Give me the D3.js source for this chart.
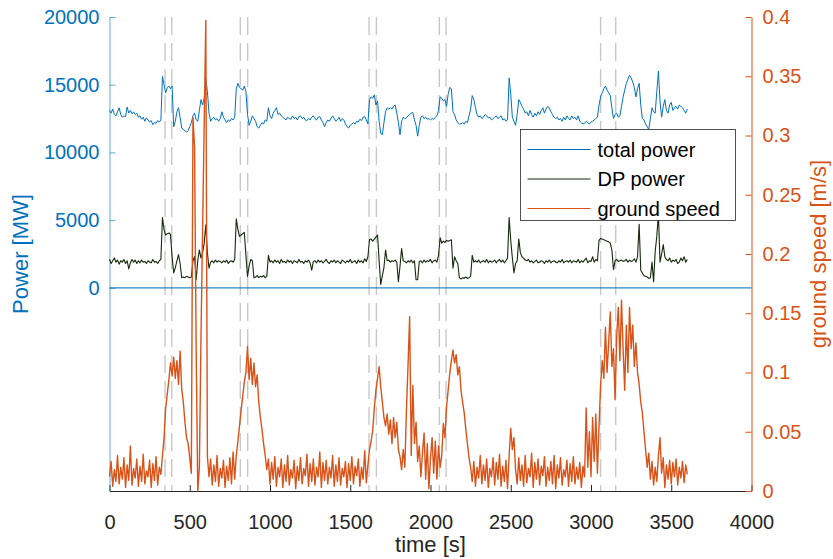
<!DOCTYPE html>
<head>
<meta charset="utf-8">
<style>
  body { margin: 0; background: #fff; }
  text { font-family: "Liberation Sans", Arial, Helvetica, sans-serif; }
</style>
</head>
<body>
<div id="chart"></div>
<script src="https://cdnjs.cloudflare.com/ajax/libs/d3/7.8.5/d3.min.js"></script>
<script>
// samples every 10 s, 0 .. 3600 s
var sampleStep = 10;

var totalPower = [
  13100,12900,13200,12800,12700,13000,13300,12800,12600,12700,
  12650,13350,12900,13100,12850,13000,12800,12900,12600,12700,
  12450,12600,12300,12550,12400,12250,12350,12050,12200,12150,
  12350,12250,12400,15600,15000,14400,14800,14900,14700,14900,
  11900,12300,13000,13300,12600,11800,11700,11600,11500,11600,
  11900,12200,12700,12900,12400,12300,13100,13900,13500,14000,
  15400,14500,12900,12300,12500,12600,12400,12500,12300,12500,
  13000,12600,12400,12200,12400,12300,12500,12400,12600,14700,
  15100,14800,14700,14600,14900,14500,12800,12000,12300,12700,
  12500,12300,11900,11800,12000,12200,12100,12400,12300,13300,
  12700,12500,12900,13100,13300,12800,12900,12700,12600,12500,
  12400,12600,12500,12450,12700,12500,12600,12400,12650,12700,
  12500,12600,12400,12350,12500,12400,12600,12700,12500,12400,
  12600,12650,12400,12200,11900,12200,12400,12300,12500,12700,
  12500,12300,12400,12600,12300,12500,12400,12100,11900,11800,
  12000,12100,12200,12100,12300,12250,12450,12350,12600,12650,
  12400,12100,13900,14100,14000,14250,13500,13800,12300,11400,
  11300,12200,13000,13300,13200,13300,13200,13400,13500,12900,
  12200,11300,12300,12600,12500,12550,12700,12800,12900,12950,
  12400,12000,11200,12000,12600,12700,12500,12600,12450,12500,
  12400,12500,12450,12600,12700,13100,14100,14000,13800,13900,
  13400,14300,14800,14700,13000,12800,12400,12200,12100,12100,
  12200,12100,12300,12200,12700,13200,14200,13900,13300,12800,
  12600,12700,12500,12600,12800,12700,12550,12600,12400,12500,
  12600,12700,12500,12600,12700,12400,12500,12300,12400,15500,
  14300,12600,12300,12000,12800,13900,13700,13400,13200,12900,
  13000,12700,13100,12800,12600,12900,12700,13000,12800,13100,
  13300,12900,13200,13400,13300,13000,12800,12600,12500,12600,
  12400,12500,12300,12600,12400,12700,12500,12400,12700,12500,
  12600,12400,12700,12300,12200,12100,12150,12300,12200,12100,
  12250,12300,12400,12500,12600,13500,14100,14400,14700,14900,
  14600,14400,14200,13300,12500,12800,12900,12600,12700,13400,
  14100,14600,15100,15400,15700,15500,15200,14800,14100,14700,
  15100,13500,12500,12400,12100,11900,11700,12500,13300,13000,
  12900,14500,16000,13800,12600,13400,13900,13100,12900,13500,
  13700,13100,13300,13400,13200,13500,13400,13300,13100,12900,
  13200
];

var dpPower = [
  2100,1800,2000,2200,1900,2050,1750,2000,1900,2100,
  1800,2000,1400,1850,2100,1900,2050,1800,2000,1850,
  2050,1900,1950,1800,2000,1900,1850,2100,1900,1950,
  1800,2000,2100,5200,4300,3900,4000,4050,3950,2300,
  1100,1500,2000,2450,1800,750,800,750,850,800,
  750,800,2000,2300,600,2000,2800,2200,2600,3300,
  4650,2600,1450,1900,2000,1850,2050,1900,2000,1950,
  1850,2000,1900,2050,1800,1950,2000,1900,2100,5100,
  4300,3800,3900,4000,4100,2400,850,1600,2100,2000,
  750,800,900,750,850,800,900,750,850,2400,
  1900,2000,1850,2050,1900,2000,1800,2100,1900,1950,
  1850,2050,1900,2000,1800,2000,1950,1850,2100,1900,
  1950,1800,2000,1900,2050,1850,1300,1950,2000,1850,
  2050,1900,2000,1850,1950,2100,1900,1800,2000,1900,
  2050,1850,2000,1900,1800,2050,1950,1850,2000,1900,
  2100,1850,1950,2000,1800,2050,1900,2000,1850,2150,
  1950,2300,3550,3600,3450,3600,3750,3900,2000,250,
  900,1500,2800,2000,2050,1900,2000,1950,2050,1900,
  450,1600,2900,2000,1950,1850,2000,1900,2050,1850,
  2000,600,600,1950,2000,1850,2050,1900,2000,1950,
  2100,1850,2000,2050,1900,2400,3700,3300,3450,3350,
  3500,3450,3500,3550,1450,2300,2000,1800,750,650,
  750,700,800,700,750,850,2400,1900,2000,1900,
  2050,1850,1950,2000,1900,2100,1850,2000,1900,1950,
  2050,1850,2000,2100,1900,2050,1850,2000,2200,5200,
  3500,2200,1100,1800,2000,3600,2600,2300,2200,2050,
  2000,2100,1900,2000,1850,1950,2050,1850,1900,2000,
  1950,1800,2000,1900,2050,1850,1950,2000,1900,1850,
  2000,1900,2100,1850,1950,2000,1900,2050,1850,2000,
  1950,1900,2100,1850,2000,1900,2050,2200,1850,2000,
  1950,2300,1900,2100,2000,3500,3650,3600,3550,3500,
  3450,3400,3300,2800,1350,2000,2100,1950,2000,2050,
  1950,2000,2100,1900,2050,1950,2000,2150,1900,2300,
  4700,1300,1100,900,850,800,700,750,1900,450,
  2700,3800,5500,1900,2500,3200,2300,2100,2000,2200,
  1900,2050,1950,2100,1800,1900,2200,2000,2300,1900,
  2100
];

var groundSpeed = [
  0.012,0.025,0.004,0.018,0.008,0.03,0.006,0.02,0.01,0.028,
  0.003,0.022,0.009,0.038,0.005,0.019,0.011,0.027,0.004,0.021,
  0.008,0.031,0.006,0.017,0.012,0.026,0.003,0.023,0.009,0.029,
  0.005,0.02,0.014,0.03,0.045,0.07,0.082,0.094,0.108,0.097,
  0.113,0.095,0.11,0.09,0.118,0.086,0.075,0.058,0.045,0.04,
  0.028,0.015,0.315,0.29,0.12,0.0,0.02,0.13,0.22,0.31,
  0.397,0.029,0.012,0.027,0.005,0.022,0.008,0.03,0.004,0.019,
  0.011,0.026,0.003,0.021,0.009,0.028,0.006,0.033,0.01,0.03,
  0.042,0.055,0.068,0.08,0.092,0.1,0.122,0.094,0.112,0.09,
  0.108,0.088,0.098,0.075,0.062,0.052,0.04,0.03,0.018,0.027,
  0.006,0.024,0.01,0.029,0.004,0.02,0.012,0.027,0.003,0.022,
  0.008,0.03,0.005,0.018,0.011,0.026,0.002,0.021,0.009,0.028,
  0.006,0.019,0.013,0.031,0.004,0.023,0.008,0.027,0.005,0.02,
  0.012,0.033,0.003,0.024,0.009,0.026,0.006,0.02,0.011,0.03,
  0.004,0.022,0.008,0.028,0.005,0.019,0.012,0.025,0.003,0.023,
  0.009,0.029,0.006,0.021,0.013,0.027,0.004,0.02,0.01,0.034,
  0.007,0.022,0.035,0.042,0.051,0.07,0.085,0.095,0.105,0.088,
  0.075,0.062,0.055,0.065,0.048,0.06,0.04,0.062,0.045,0.058,
  0.035,0.029,0.018,0.035,0.02,0.068,0.106,0.147,0.03,0.089,
  0.04,0.058,0.025,0.038,0.012,0.032,0.049,0.01,0.04,0.002,
  0.028,0.045,0.015,0.042,0.01,0.038,0.02,0.03,0.057,0.045,
  0.071,0.085,0.099,0.11,0.119,0.108,0.115,0.098,0.105,0.085,
  0.075,0.066,0.052,0.04,0.028,0.02,0.008,0.025,0.004,0.02,
  0.011,0.03,0.006,0.022,0.009,0.027,0.003,0.019,0.012,0.028,
  0.005,0.024,0.01,0.031,0.004,0.021,0.008,0.026,0.002,0.03,
  0.053,0.035,0.045,0.018,0.006,0.028,0.009,0.022,0.004,0.03,
  0.007,0.019,0.012,0.032,0.003,0.024,0.01,0.027,0.005,0.021,
  0.013,0.029,0.004,0.02,0.009,0.025,0.006,0.03,0.002,0.022,
  0.011,0.028,0.005,0.018,0.012,0.026,0.004,0.023,0.008,0.029,
  0.006,0.02,0.01,0.024,0.003,0.021,0.012,0.07,0.02,0.05,
  0.012,0.062,0.025,0.065,0.015,0.055,0.09,0.11,0.095,0.138,
  0.1,0.125,0.151,0.105,0.12,0.077,0.13,0.155,0.11,0.161,
  0.12,0.085,0.14,0.1,0.155,0.12,0.14,0.105,0.125,0.1,
  0.09,0.075,0.066,0.05,0.035,0.02,0.032,0.01,0.025,0.005,
  0.02,0.008,0.03,0.045,0.015,0.028,0.003,0.022,0.01,0.026,
  0.006,0.024,0.012,0.027,0.005,0.02,0.011,0.025,0.007,0.022,
  0.014
];

// phase change instants (dashed markers)
var eventTimes = [346, 388, 815, 861, 1617, 1663, 2055, 2097, 3060, 3154];

var xTicks = [0, 500, 1000, 1500, 2000, 2500, 3000, 3500, 4000];
var powerTicks = [0, 5000, 10000, 15000, 20000];
var speedTicks = [0, 0.05, 0.1, 0.15, 0.2, 0.25, 0.3, 0.35, 0.4];
var legendLabels = ['total power', 'DP power', 'ground speed'];

drawChart();

function drawChart() {
  var blue = '#0072BD', orange = '#D95319', dark = '#15290c', axisCol = '#262626';

  var frameWidth = 833, frameHeight = 559;
  var plotLeft = 109.5, plotRight = 751.5, plotTop = 17, plotBottom = 491;

  var svg = d3.select('#chart').append('svg')
    .attr('width', frameWidth)
    .attr('height', frameHeight);

  var x = d3.scaleLinear().domain([0, 4000]).range([plotLeft, plotRight]);
  var yL = d3.scaleLinear().domain([-15000, 20000]).range([plotBottom, plotTop]);
  var yR = d3.scaleLinear().domain([0, 0.4]).range([plotBottom, plotTop]);

  var times = totalPower.map(function(d, i) { return i * sampleStep; });

  // axes, ticks pointing inward
  var gx = svg.append('g')
    .attr('transform', 'translate(0,' + plotBottom + ')')
    .call(d3.axisBottom(x).tickValues(xTicks).tickFormat(d3.format('d'))
      .tickSizeOuter(0).tickPadding(18));
  gx.selectAll('.tick line').attr('y2', -6).attr('stroke', axisCol);
  gx.selectAll('text').attr('font-size', 20).attr('fill', axisCol);
  gx.select('.domain').attr('stroke', axisCol);

  var gl = svg.append('g')
    .attr('transform', 'translate(' + plotLeft + ',0)')
    .call(d3.axisLeft(yL).tickValues(powerTicks).tickFormat(d3.format('d'))
      .tickSizeOuter(0).tickPadding(10));
  gl.selectAll('.tick line').attr('x2', 6).attr('stroke', blue).attr('stroke-opacity', 0.6);
  gl.selectAll('text').attr('font-size', 20).attr('fill', blue).attr('x', -10);
  gl.select('.domain').attr('stroke', blue).attr('stroke-opacity', 0.6);

  var gr = svg.append('g')
    .attr('transform', 'translate(' + plotRight + ',0)')
    .call(d3.axisRight(yR).tickValues(speedTicks)
      .tickFormat(function(d) { return String(+d.toFixed(2)); })
      .tickSizeOuter(0).tickPadding(11));
  gr.selectAll('.tick line').attr('x2', -6).attr('stroke', orange);
  gr.selectAll('text').attr('font-size', 20).attr('fill', orange).attr('x', 11);
  gr.select('.domain').attr('stroke', orange);

  // dashed event markers
  svg.append('g').selectAll('line')
    .data(eventTimes).enter().append('line')
    .attr('x1', function(d) { return x(d); })
    .attr('x2', function(d) { return x(d); })
    .attr('y1', plotTop).attr('y2', plotBottom)
    .attr('stroke', '#c8c8c8')
    .attr('stroke-width', 1.4)
    .attr('stroke-dasharray', '18,8');

  // zero line
  svg.append('line')
    .attr('x1', plotLeft).attr('x2', plotRight)
    .attr('y1', yL(0)).attr('y2', yL(0))
    .attr('stroke', blue).attr('stroke-width', 1.2).attr('stroke-opacity', 0.85);

  function drawSeries(values, yScale, color, width) {
    var line = d3.line()
      .x(function(d, i) { return x(times[i]); })
      .y(function(d) { return yScale(d); });
    svg.append('path')
      .datum(values)
      .attr('d', line)
      .attr('fill', 'none')
      .attr('stroke', color)
      .attr('stroke-width', width)
      .attr('stroke-linejoin', 'round');
  }

  drawSeries(totalPower, yL, blue, 1);
  drawSeries(dpPower, yL, dark, 1.1);
  drawSeries(groundSpeed, yR, orange, 1.4);

  svg.selectAll('.domain').raise();

  // axis labels
  svg.append('text')
    .attr('x', (plotLeft + plotRight) / 2).attr('y', 552)
    .attr('text-anchor', 'middle').attr('font-size', 22).attr('fill', axisCol)
    .text('time [s]');

  svg.append('text')
    .attr('transform', 'translate(28,' + (plotTop + plotBottom) / 2 + ') rotate(-90)')
    .attr('text-anchor', 'middle').attr('font-size', 22).attr('fill', blue)
    .text('Power [MW]');

  svg.append('text')
    .attr('transform', 'translate(826,' + (plotTop + plotBottom) / 2 + ') rotate(-90)')
    .attr('text-anchor', 'middle').attr('font-size', 22).attr('fill', orange)
    .text('ground speed [m/s]');

  // legend
  var legend = svg.append('g').attr('transform', 'translate(520.5,129.5)');
  legend.append('rect')
    .attr('width', 215).attr('height', 91)
    .attr('fill', '#fff').attr('stroke', axisCol).attr('stroke-width', 0.8);

  var legendColors = [blue, dark, orange];
  var rows = legend.selectAll('g.row')
    .data(legendLabels).enter().append('g')
    .attr('class', 'row')
    .attr('transform', function(d, i) { return 'translate(0,' + (20 + i * 29.5) + ')'; });

  rows.append('line')
    .attr('x1', 7).attr('x2', 70)
    .attr('stroke', function(d, i) { return legendColors[i]; })
    .attr('stroke-width', 1);

  rows.append('text')
    .attr('x', 77).attr('dy', '0.35em')
    .attr('font-size', 20).attr('fill', '#000')
    .text(function(d) { return d; });
}
</script>
</body>
</html>
